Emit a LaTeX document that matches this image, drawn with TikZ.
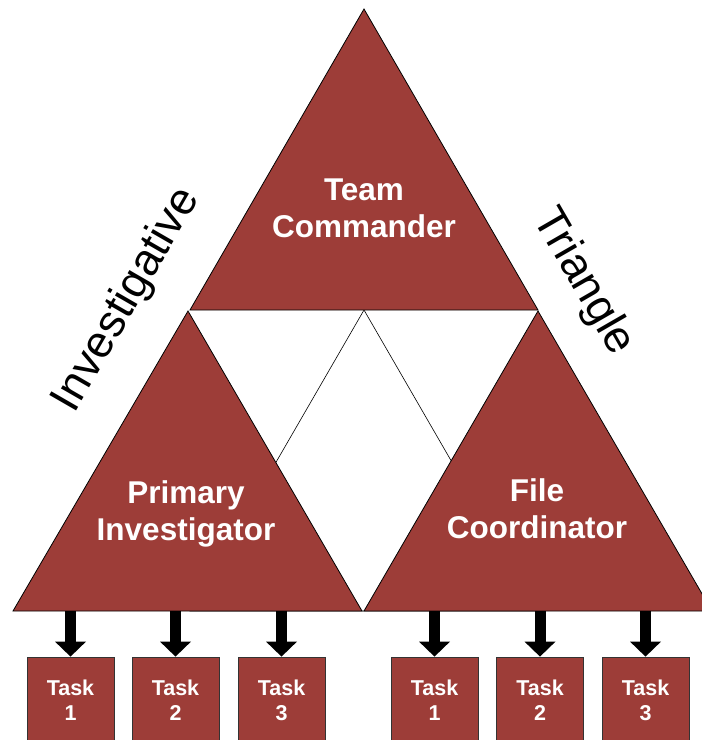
\documentclass[tikz,border=0pt]{standalone}
\usepackage{fontspec}
\setmainfont{Liberation Sans}
\usetikzlibrary{arrows.meta}
\definecolor{brick}{RGB}{157,61,56}

\begin{document}
\begin{tikzpicture}[x=1pt,y=-1pt]
\useasboundingbox (0,0) rectangle (702,740);
\clip (0,0) rectangle (702,740);
\tikzstyle{tri}=[draw=black,fill=brick,line width=0.8pt]
\tikzstyle{midtri}=[draw=black,fill=white,line width=0.6pt]
\tikzstyle{head}=[text=white,align=center,font=\bfseries\fontsize{31.5}{37}\selectfont]
\tikzstyle{sidetext}=[text=black,font=\fontsize{45}{52}\selectfont]
\tikzstyle{task} = [draw=black!80,fill=brick,line width=0.8pt,minimum width=87pt,minimum height=87pt,text=white,align=center,font=\bfseries\fontsize{21.5}{25}\selectfont]
\tikzstyle{push}=[line width=11pt,-{Triangle[width=31pt,length=15pt,line width=0pt]}]
% hidden middle triangle
\draw[midtri] (364,310) -- (190,611) -- (538,611) -- cycle;
\draw[tri] (364,9) -- (538,310) -- (190,310) -- cycle;
\draw[tri] (188,311) -- (362,611) -- (13,611) -- cycle;
\draw[tri] (538,311) -- (712,611) -- (364,611) -- cycle;
\node[head] (TC) at (364,208) {Team\\Commander};
\node[head] (PI) at (186,514) {Primary\\Investigator};
\node[head] (FC) at (537,509) {File\\Coordinator};
\node[sidetext,rotate=60] (S1) at (127,300) {Investigative};
\node[sidetext,rotate=-60] (S2) at (583,282) {Triangle};
%\node[sidetext] at (364,700) {};
\node[task] (K1) at (70.5,700.5) {Task\\1};
\node[task] (K2) at (175.5,700.5) {Task\\2};
\node[task] (K3) at (281.5,700.5) {Task\\3};
\node[task] (K4) at (434.5,700.5) {Task\\1};
\node[task] (K5) at (540,700.5) {Task\\2};
\node[task] (K6) at (645.5,700.5) {Task\\3};
\coordinate (B1) at (70.5,611);
\coordinate (B2) at (175.5,611);
\coordinate (B3) at (281.5,611);
\coordinate (B4) at (434.5,611);
\coordinate (B5) at (540,611);
\coordinate (B6) at (645.5,611);
\draw[push] (B1) -- (K1);
\draw[push] (B2) -- (K2);
\draw[push] (B3) -- (K3);
\draw[push] (B4) -- (K4);
\draw[push] (B5) -- (K5);
\draw[push] (B6) -- (K6);
\end{tikzpicture}
\end{document}
